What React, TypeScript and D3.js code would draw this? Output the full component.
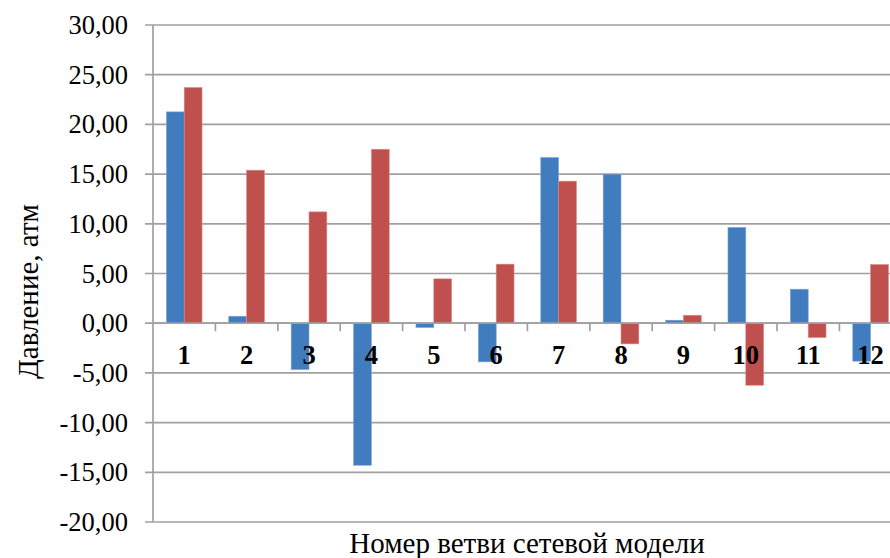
import React from "react";
import * as d3 from "d3";

const categories = ["1", "2", "3", "4", "5", "6", "7", "8", "9", "10", "11", "12"];
const seriesBlue = [21.26, 0.7, -4.66, -14.29, -0.43, -3.89, 16.67, 14.99, 0.3, 9.63, 3.42, -3.82];
const seriesRed = [23.71, 15.39, 11.2, 17.5, 4.46, 5.94, 14.29, -2.08, 0.8, -6.24, -1.44, 5.9];
const yTicks = [30, 25, 20, 15, 10, 5, 0, -5, -10, -15, -20];
const seriesKeys = ["blue", "red"];
const seriesColors = ["#417CBE", "#C0504D"];

const W = 890;
const H = 558;
const left = 153;
const band = 62.4;
const right = left + band * categories.length;
const top = 25;
const bottom = 522;

const FONT = "Liberation Serif";

export default function App() {
  const y = d3.scaleLinear().domain([-20, 30]).range([bottom, top]);
  const x0 = d3.scaleBand<string>().domain(categories).range([left, right]);
  const bw = x0.bandwidth();
  const gap = bw / 3.5 * 1.5;
  const x1 = d3.scaleBand<string>().domain(seriesKeys).range([gap / 2, bw - gap / 2]);
  const data = [seriesBlue, seriesRed];
  const fmt = (v: number) => v.toFixed(2).replace(".", ",");
  const grid = "#A0A0A0";
  const ts = { fontFamily: FONT } as React.CSSProperties;

  return (
    <svg width={W} height={H} style={{ position: "fixed", left: 0, top: 0, background: "#fff" }}>
      <rect x={0} y={0} width={W} height={H} fill="#fff" />
      {yTicks.map((t) => (
        <g key={t}>
          <line x1={left - 8} x2={W} y1={y(t)} y2={y(t)} stroke={grid} strokeWidth={1.7} />
          <text x={128} y={y(t)} dy="0.34em" textAnchor="end" fontSize={26.5} fill="#000" style={ts}>
            {fmt(t)}
          </text>
        </g>
      ))}
      <line x1={left} x2={left} y1={top} y2={bottom} stroke={grid} strokeWidth={1.7} />
      {categories.map((c, i) => (
        <g key={c}>
          {data.map((s, j) => {
            const v = s[i];
            const yy = Math.min(y(v), y(0));
            const hh = Math.abs(y(v) - y(0));
            return (
              <rect
                key={j}
                x={(x0(c) as number) + (x1(seriesKeys[j]) as number)}
                y={yy}
                width={x1.bandwidth()}
                height={hh}
                fill={seriesColors[j]}
                stroke={j === 0 ? "#7FA5D6" : "#D98B89"}
                strokeWidth={0.6}
              />
            );
          })}
        </g>
      ))}
      <line x1={left} x2={W} y1={y(0)} y2={y(0)} stroke={grid} strokeWidth={1.7} />
      {categories.map((c) => (
        <line
          key={"t" + c}
          x1={(x0(c) as number) + bw}
          x2={(x0(c) as number) + bw}
          y1={y(0)}
          y2={y(0) + 8}
          stroke={grid}
          strokeWidth={1.7}
        />
      ))}
      {categories.map((c) => (
        <text
          key={"l" + c}
          x={(x0(c) as number) + bw / 2}
          y={364}
          textAnchor="middle"
          fontSize={26.5}
          fontWeight="bold"
          fill="#000"
          style={ts}
        >
          {c}
        </text>
      ))}
      <text
        transform={`translate(38, 291.5) rotate(-90)`}
        textAnchor="middle"
        fontSize={29}
        fill="#000"
        style={ts}
      >
        Давление, атм
      </text>
      <text x={527} y={553} textAnchor="middle" fontSize={29} fill="#000" style={ts}>
        Номер ветви сетевой модели
      </text>
    </svg>
  );
}
